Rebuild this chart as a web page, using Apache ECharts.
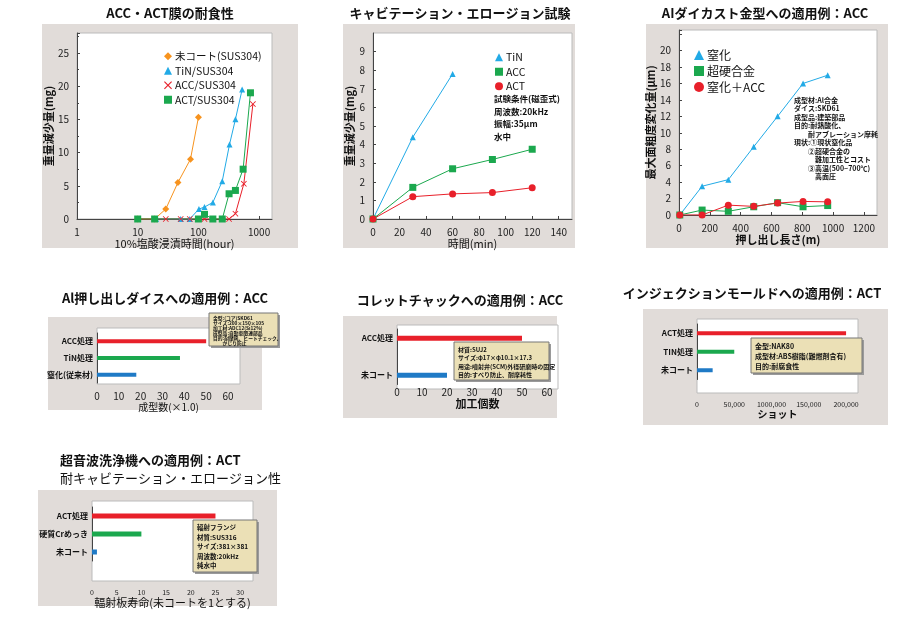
<!DOCTYPE html>
<html>
<head>
<meta charset="utf-8">
<script src="https://cdn.jsdelivr.net/npm/echarts@6/dist/echarts.min.js"></script>
<style>
  html, body { margin: 0; padding: 0; background: #fff; }
  #main { width: 900px; height: 630px; }
</style>
</head>
<body>
<div id="main"></div>
<script>
// ---- 1. ACC・ACT膜の耐食性 (log x) ----
var c1UncoatX = [10, 19, 29, 46, 74, 100];
var c1UncoatY = [0, 0, 1.5, 5.5, 9, 15.3];
var c1TinX = [20, 51, 72, 102, 126, 173, 247, 325, 407, 525];
var c1TinY = [0, 0, 0, 1.5, 1.8, 2.5, 5.7, 11.2, 15, 19.5];
var c1AccX = [10, 19, 29, 51, 72, 100, 126, 173, 247, 320, 407, 560, 790];
var c1AccY = [0, 0, 0, 0, 0, 0, 0, 0, 0, 0, 0.8, 5.3, 17.3];
var c1ActX = [10, 19, 100, 126, 173, 247, 320, 407, 545, 720];
var c1ActY = [0, 0, 0, 0.7, 0, 0, 3.8, 4.3, 7.5, 19];

// ---- 2. キャビテーション・エロージョン試験 ----
var c2TinX = [0, 30, 60];
var c2TinY = [0, 4.4, 7.8];
var c2AccX = [0, 30, 60, 90, 120];
var c2AccY = [0, 1.7, 2.7, 3.2, 3.75];
var c2ActX = [0, 30, 60, 90, 120];
var c2ActY = [0, 1.2, 1.35, 1.42, 1.68];

// ---- 3. AIダイカスト金型 ----
var c3X = [5, 150, 320, 485, 640, 805, 965];
var c3Nitride = [0, 3.5, 4.3, 8.3, 12, 16, 17];
var c3Carbide = [0, 0.6, 0.45, 1.0, 1.5, 1.0, 1.15];
var c3NitrideAcc = [0, 0, 1.2, 1.05, 1.45, 1.65, 1.6];

// ---- 4-7. bar panels (bottom to top) ----
var c4Cats = ['窒化(従来材)', 'TiN処理', 'ACC処理'];
var c4Vals = [18, 38, 50];
var c5Cats = ['未コート', '', 'ACC処理'];
var c5Vals = [20, null, 50];
var c6Cats = ['未コート', 'TIN処理', 'ACT処理'];
var c6Vals = [21000, 50000, 200000];
var c6TickLabels = ['0', '50,000', '1000,000', '150,000', '200,000'];
var c7Cats = ['未コート', '硬質Crめっき', 'ACT処理'];
var c7Vals = [1, 10, 25];

var ORANGE = '#f7931e', CYAN = '#22aae6', RED = '#e8202a', GREEN = '#1ba84e', BLUE = '#1f7ac6';
var BARCOLORS = [BLUE, GREEN, RED];
var FONT = '"Noto Sans CJK JP", sans-serif';
var CROSS = 'path://M0,1L1,0L5,4L9,0L10,1L6,5L10,9L9,10L5,6L1,10L0,9L4,5Z';

function zip(xs, ys) { return xs.map(function (x, i) { return [x, ys[i]]; }); }
function plain(v) { return String(v); }

var chart = echarts.init(document.getElementById('main'));

// helpers
function rect(x, y, w, h, fill, stroke, z) {
  return { type: 'rect', shape: { x: x, y: y, width: w, height: h }, z: z || 0,
    style: { fill: fill, stroke: stroke || null, lineWidth: 1 } };
}
function text(x, y, t, size, weight, align, z, lh) {
  return { type: 'text', x: x, y: y, z: z || 1,
    style: { text: t, fill: '#111', font: (weight || 'normal') + ' ' + size + 'px ' + FONT,
      textAlign: align || 'left', textVerticalAlign: 'top', lineHeight: lh || size + 2 } };
}
function note(x, y, w, h, lines, size, lh) {
  return [
    { type: 'rect', shape: { x: x + 2, y: y + 2, width: w, height: h }, z: 99, style: { fill: '#9a9a9a' } },
    rect(x, y, w, h, '#ebe0b6', '#777', 100),
    text(x + 4, y + 3, lines.join('\n'), size, 'bold', 'left', 101, lh)
  ];
}

var graphics = [
  rect(42, 24, 256, 224, '#e1dcd9'), rect(77, 33, 195, 186, '#fff', '#bbb'),
  rect(343, 24, 232, 224, '#e1dcd9'), rect(373, 33, 199, 186, '#fff', '#bbb'),
  rect(646, 24, 242, 224, '#e1dcd9'), rect(679, 30, 198, 185, '#fff', '#bbb'),
  rect(48, 317, 214, 93, '#e1dcd9'), rect(97, 328, 143, 56, '#fff', '#bbb'),
  rect(343, 316, 214, 102, '#e1dcd9'), rect(397, 325, 161, 64, '#fff', '#bbb'),
  rect(643, 309, 245, 116, '#e1dcd9'), rect(697, 319, 161, 74, '#fff', '#bbb'),
  rect(38, 490, 239, 116, '#e1dcd9'), rect(92, 501, 161, 80, '#fff', '#bbb'),
  text(170, 6, 'ACC・ACT膜の耐食性', 13, 'bold', 'center'),
  text(460, 6, 'キャビテーション・エロージョン試験', 13, 'bold', 'center'),
  text(765, 6, 'AIダイカスト金型への適用例：ACC', 13, 'bold', 'center'),
  text(165, 291, 'Al押し出しダイスへの適用例：ACC', 13, 'bold', 'center'),
  text(460, 293, 'コレットチャックへの適用例：ACC', 13, 'bold', 'center'),
  text(752, 286, 'インジェクションモールドへの適用例：ACT', 13, 'bold', 'center'),
  text(60, 453, '超音波洗浄機への適用例：ACT', 13, 'bold', 'left'),
  text(60, 471, '耐キャビテーション・エロージョン性', 13, 'normal', 'left'),
  text(494, 93, '試験条件(磁歪式)\n周波数:20kHz\n振幅:35μm\n水中', 8.5, 'bold', 'left', 5, 12.5),
  text(794, 96, '成型材:Al合金\nダイス:SKD61\n成型品:建築部品\n目的:耐熱酸化、\n　　耐アブレーション摩耗\n現状:①現状窒化品\n　　②超硬合金の\n　　　難加工性とコスト\n　　③高温(500~700℃)\n　　　高面圧',
    7, 'bold', 'left', 5, 8.5)
];
graphics = graphics
  .concat(note(209, 313, 69, 33, ['金型:(コア)SKD61', 'サイズ:200×150×105', '加工材:ADC12(Si12%)', '成型品:自動車関連部品', '目的:耐摩耗、ヒートチェック、', '　　かじり防止'], 4.8, 5))
  .concat(note(454, 342, 95, 38, ['材質:SUJ2', 'サイズ:φ17×φ10.1×17.3', '用途:噴射弁(SCM)外径研磨時の固定', '目的:すべり防止、耐摩耗性'], 6, 8.5))
  .concat(note(751, 338, 111, 35, ['金型:NAK80', '成型材:ABS樹脂(難燃剤含有)', '目的:耐腐食性'], 7, 10))
  .concat(note(193, 520, 64, 52, ['輻射フランジ', '材質:SUS316', 'サイズ:381×381', '周波数:20kHz', '純水中'], 6.5, 9.5));

var axisLbl = { color: '#222', fontSize: 10, fontFamily: FONT };
var axLine = { lineStyle: { color: '#444', width: 1 } };
var nameSt = { color: '#111', fontSize: 11, fontWeight: 'bold', fontFamily: FONT };

function valAxis(idx, min, max, interval, extra) {
  return Object.assign({ type: 'value', gridIndex: idx, min: min, max: max, interval: interval,
    axisLine: Object.assign({ show: true }, axLine), axisTick: { show: true, inside: true, length: 3 },
    splitLine: { show: false }, axisLabel: Object.assign({ showMaxLabel: false, formatter: plain }, axisLbl),
    nameTextStyle: nameSt }, extra || {});
}
function catAxis(idx, cats) {
  return { type: 'category', gridIndex: idx, data: cats, axisLine: Object.assign({ show: true }, axLine),
    axisTick: { show: false }, axisLabel: { color: '#111', fontSize: 8, fontWeight: 'bold', fontFamily: FONT, margin: 4 } };
}
function line(name, data, xi, color, symbol, size) {
  return { name: name, type: 'line', xAxisIndex: xi, yAxisIndex: xi, data: data, symbol: symbol,
    symbolSize: size || 7, lineStyle: { color: color, width: 1 }, itemStyle: { color: color }, z: 5 };
}
function bar(cats, vals, xi, height) {
  return { type: 'bar', xAxisIndex: xi, yAxisIndex: xi, barWidth: height || 4, z: 5,
    data: vals.map(function (v, i) { return { value: v, itemStyle: { color: BARCOLORS[i] } }; }) };
}
function legend(x, y, items, size, gap, iconSize) {
  return { orient: 'vertical', left: x, top: y, itemGap: gap, itemWidth: iconSize, itemHeight: iconSize,
    selectedMode: false, data: items,
    textStyle: { fontSize: size, color: '#111', fontFamily: FONT, padding: [0, 0, 0, -2] } };
}

var option = {
  animation: false,
  graphic: graphics,
  legend: [
    legend(159, 46, [{ name: '未コート(SUS304)', icon: 'diamond' }, { name: 'TiN/SUS304', icon: 'triangle' },
      { name: 'ACC/SUS304', icon: CROSS }, { name: 'ACT/SUS304', icon: 'rect' }], 10.5, 4, 8),
    legend(490, 47, [{ name: 'TiN', icon: 'triangle' }, { name: 'ACC', icon: 'rect' }, { name: 'ACT', icon: 'circle' }], 10.5, 4, 8),
    legend(689, 44, [{ name: '窒化', icon: 'triangle' }, { name: '超硬合金', icon: 'rect' }, { name: '窒化＋ACC', icon: 'circle' }], 12, 4, 10)
  ],
  grid: [
    { left: 77, top: 33, width: 195, height: 186 },
    { left: 373, top: 33, width: 199, height: 186 },
    { left: 679, top: 30, width: 198, height: 185 },
    { left: 97, top: 333, width: 143, height: 50 },
    { left: 397, top: 329, width: 161, height: 55.5 },
    { left: 697, top: 324, width: 161, height: 55.5 },
    { left: 92, top: 507, width: 161, height: 54 }
  ],
  xAxis: [
    { type: 'log', gridIndex: 0, min: 1, max: 1630, logBase: 10, interval: 1,
      axisLine: Object.assign({ show: true }, axLine), axisTick: { inside: true, length: 3 }, minorTick: { show: false },
      splitLine: { show: false }, axisLabel: Object.assign({ showMaxLabel: false, formatter: plain }, axisLbl),
      name: '10%塩酸浸漬時間(hour)', nameLocation: 'middle', nameGap: 13, nameTextStyle: { color: '#111', fontSize: 11, fontFamily: FONT } },
    valAxis(1, 0, 150, 20, { name: '時間(min)', nameLocation: 'middle', nameGap: 14, nameTextStyle: { color: '#111', fontSize: 11, fontFamily: FONT } }),
    valAxis(2, 0, 1285, 200, { name: '押し出し長さ(m)', nameLocation: 'middle', nameGap: 14, nameTextStyle: nameSt }),
    valAxis(3, 0, 65.5, 10, { axisLine: { show: false }, axisTick: { show: false }, name: '成型数(×1.0)', nameLocation: 'middle', nameGap: 16, nameTextStyle: { color: '#111', fontSize: 10, fontFamily: FONT } }),
    valAxis(4, 0, 64.4, 10, { offset: -5, axisLine: { show: false }, axisTick: { show: false }, name: '加工個数', nameLocation: 'middle', nameGap: 18, nameTextStyle: { color: '#111', fontSize: 11, fontWeight: 'bold', fontFamily: FONT } }),
    valAxis(5, 0, 216000, 50000, { offset: 13, axisLine: { show: false }, axisTick: { show: false },
      axisLabel: { showMaxLabel: false, color: '#222', fontSize: 7, fontFamily: FONT, formatter: function (v) { return c6TickLabels[v / 50000]; } },
      name: 'ショット', nameLocation: 'middle', nameGap: 17, nameTextStyle: { color: '#111', fontSize: 10, fontWeight: 'bold', fontFamily: FONT } }),
    valAxis(6, 0, 32.6, 5, { offset: 20, axisLine: { show: false }, axisTick: { show: false },
      axisLabel: { showMaxLabel: false, color: '#222', fontSize: 7, fontFamily: FONT },
      name: '輻射板寿命(未コートを1とする)', nameLocation: 'middle', nameGap: 15, nameTextStyle: { color: '#111', fontSize: 11, fontFamily: FONT } })
  ],
  yAxis: [
    valAxis(0, 0, 28, 5, { name: '重量減少量(mg)', nameLocation: 'middle', nameGap: 22, minorTick: { show: true, splitNumber: 2, length: 2 } }),
    valAxis(1, 0, 10, 1, { name: '重量減少量(mg)', nameLocation: 'middle', nameGap: 16 }),
    valAxis(2, 0, 22.5, 2, { name: '最大面粗度変化量(μm)', nameLocation: 'middle', nameGap: 20,
      axisLabel: Object.assign({ formatter: function (v) { return v > 20 ? '' : String(v); } }, axisLbl),
      nameTextStyle: { color: '#111', fontSize: 11, fontWeight: 'bold', fontFamily: FONT } }),
    catAxis(3, c4Cats), catAxis(4, c5Cats), catAxis(5, c6Cats), catAxis(6, c7Cats)
  ],
  series: [
    line('未コート(SUS304)', zip(c1UncoatX, c1UncoatY), 0, ORANGE, 'diamond', 7),
    line('TiN/SUS304', zip(c1TinX, c1TinY), 0, CYAN, 'triangle', 6),
    line('ACC/SUS304', zip(c1AccX, c1AccY), 0, RED, CROSS, 6),
    line('ACT/SUS304', zip(c1ActX, c1ActY), 0, GREEN, 'rect', 7),
    line('TiN', zip(c2TinX, c2TinY), 1, CYAN, 'triangle', 6),
    line('ACC', zip(c2AccX, c2AccY), 1, GREEN, 'rect', 7),
    line('ACT', zip(c2ActX, c2ActY), 1, RED, 'circle', 7),
    line('窒化', zip(c3X, c3Nitride), 2, CYAN, 'triangle', 6),
    line('超硬合金', zip(c3X, c3Carbide), 2, GREEN, 'rect', 7),
    line('窒化＋ACC', zip(c3X, c3NitrideAcc), 2, RED, 'circle', 7),
    bar(c4Cats, c4Vals, 3, 4),
    bar(c5Cats, c5Vals, 4, 5),
    bar(c6Cats, c6Vals, 5, 4),
    bar(c7Cats, c7Vals, 6, 5)
  ]
};
chart.setOption(option);
</script>
</body>
</html>
